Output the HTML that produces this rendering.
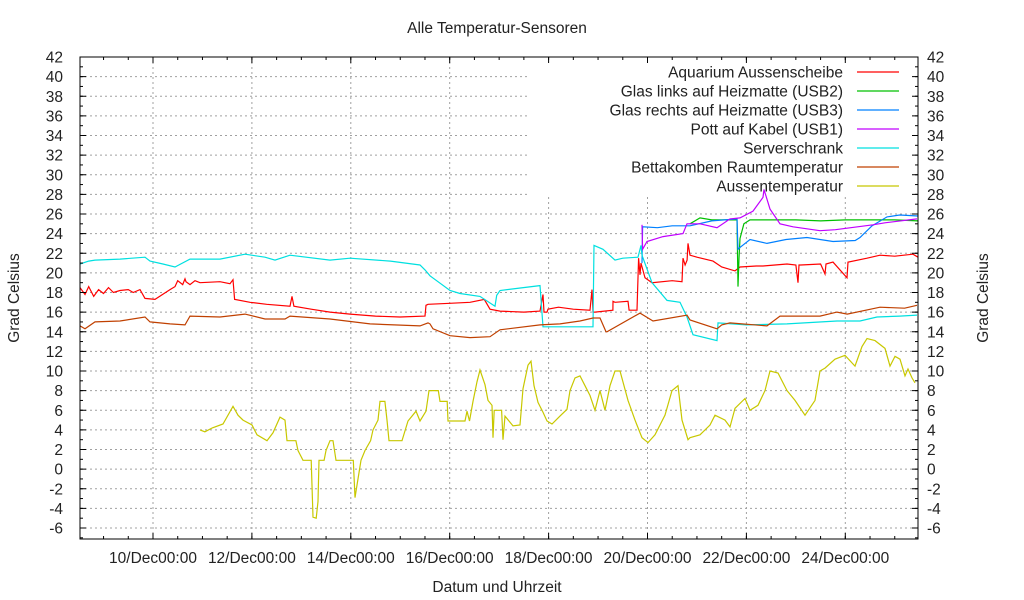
<!DOCTYPE html>
<html><head><meta charset="utf-8"><style>
body{margin:0;background:#fff}
svg{display:block;font-family:"Liberation Sans",sans-serif}
</style></head><body>
<svg id="chart" width="1024" height="600" viewBox="0 0 1024 600" xmlns="http://www.w3.org/2000/svg">
<rect width="1024" height="600" fill="#fff"/>
<text x="497" y="33" font-size="15.5" text-anchor="middle" fill="#222">Alle Temperatur-Sensoren</text>
<text x="0" y="0" font-size="15.5" text-anchor="middle" fill="#222" transform="translate(19,298) rotate(-90)">Grad Celsius</text>
<text x="0" y="0" font-size="15.5" text-anchor="middle" fill="#222" transform="translate(988,298) rotate(-90)">Grad Celsius</text>
<text x="497" y="592" font-size="15.5" text-anchor="middle" fill="#222">Datum und Uhrzeit</text>
<g id="grid"></g><g id="legendbg"></g><g id="series"></g><g id="axes"></g><g id="legend"></g>
</svg>
<script>
// time in days since 10/Dec 00:00
const xTickDays=[0,2,4,6,8,10,12,14];
const xTickLabels=["10/Dec00:00","12/Dec00:00","14/Dec00:00","16/Dec00:00","18/Dec00:00","20/Dec00:00","22/Dec00:00","24/Dec00:00"];
const yTicks=[-6,-4,-2,0,2,4,6,8,10,12,14,16,18,20,22,24,26,28,30,32,34,36,38,40,42];
const seriesNames=["Aquarium Aussenscheibe","Glas links auf Heizmatte (USB2)","Glas rechts auf Heizmatte (USB3)","Pott auf Kabel (USB1)","Serverschrank","Bettakomben Raumtemperatur","Aussentemperatur"];
const seriesColors=["#ff0000","#00c000","#0080ff","#c000ff","#00e0e0","#c04000","#c8c800"];

const redT=[-1.476,-1.375,-1.3,-1.2,-1.1,-1.0,-0.9,-0.8,-0.667,-0.5,-0.4,-0.263,-0.162,0.04,0.344,0.445,0.5,0.6,0.647,0.667,0.748,0.849,0.95,1.355,1.557,1.618,1.65,1.962,2.3,2.77,2.811,2.85,3.2,3.579,3.984,4.5,4.995,5.501,5.521,5.561,6.0,6.411,6.7,6.815,7.017,7.5,7.826,7.887,7.907,7.968,7.988,8.2,8.5,8.837,8.878,8.898,8.938,9.3,9.302,9.343,9.606,9.628,9.788,9.82,9.848,9.869,9.95,10.091,10.5,10.698,10.718,10.76,10.8,10.819,10.86,11.0,11.325,11.5,11.769,11.87,12.2,12.336,12.821,13.0,13.043,13.063,13.1,13.5,13.589,13.609,13.751,14.034,14.054,14.439,14.701,15.0,15.369,15.47];
const redV=[18.5,17.8,18.6,17.6,18.3,17.9,18.5,18,18.2,18.3,18.0,18.3,17.4,17.3,18.3,18.6,19.2,18.8,19.4,19.1,18.8,19.2,19.0,19.1,18.9,19.3,17.3,17.0,16.8,16.6,17.6,16.6,16.3,16.0,15.8,15.6,15.5,15.6,16.7,16.8,16.9,17.0,17.3,16.3,16.1,16.0,16.1,17.8,16.0,16.0,16.3,16.5,16.3,16.2,18.3,16.0,16.0,16.2,17.1,17.0,17.1,16.2,16.2,21.5,19.8,21.0,19.5,19.0,19.2,19.1,21.5,20.8,21.3,23.0,21.8,21.6,21.2,20.6,20.2,20.6,20.7,20.7,20.9,20.8,19.0,20.8,20.8,20.9,19.9,20.9,21.1,19.5,21.1,21.5,21.8,21.7,21.9,21.6];
const greenT=[10.86,11.062,11.3,11.81,11.83,11.85,11.87,11.95,12.073,12.5,13.0,13.5,14.0,14.5,15.0,15.47];
const greenV=[25.0,25.6,25.4,25.4,18.6,21.5,23.5,25.0,25.4,25.4,25.4,25.3,25.4,25.4,25.4,25.3];
const blueT=[9.889,9.9,10.2,10.5,10.86,11.3,11.81,11.83,11.87,12.073,12.417,12.8,13.225,13.751,14.2,14.297,14.54,14.843,15.1,15.47];
const blueV=[21.0,24.7,24.6,24.8,24.8,25.3,25.5,22.4,22.6,23.4,23.0,23.4,23.6,23.2,23.3,23.6,24.8,25.7,25.9,25.8];
const purpleT=[9.889,9.9,9.99,10.313,10.718,10.799,11.062,11.406,11.668,11.87,12.133,12.336,12.356,12.477,12.68,12.942,13.488,13.8,14.56,14.8,15.45];
const purpleV=[24.9,22.4,23.2,23.7,24.0,25.0,25.0,24.6,25.5,25.6,26.3,27.7,28.5,26.5,25.0,24.7,24.3,24.4,24.9,25.1,25.5];
const cyanT=[-1.476,-1.3,-1.173,-0.667,-0.162,-0.061,0.2,0.445,0.748,1.355,1.86,2.265,2.467,2.77,3.579,3.984,4.8,5.399,5.501,5.602,6.006,6.208,6.613,6.916,6.95,7.017,7.826,7.887,7.9,8.898,8.918,9.1,9.343,9.5,9.808,9.869,9.889,10.091,10.394,10.657,10.799,10.92,11.406,11.426,12.0,12.821,13.832,14.297,14.641,15.1,15.45];
const cyanV=[20.9,21.2,21.3,21.4,21.6,21.2,20.9,20.6,21.4,21.4,21.9,21.6,21.3,21.8,21.3,21.5,21.2,20.8,20.3,19.7,18.2,17.9,17.6,16.6,17.7,18.2,18.7,14.5,14.5,14.5,22.8,22.4,21.3,21.5,21.6,22.8,21.8,19.0,17.2,17.0,15.5,13.7,13.1,14.9,14.7,14.8,15.1,15.1,15.5,15.6,15.7];
const brownT=[-1.476,-1.375,-1.173,-0.667,-0.162,-0.061,0.344,0.647,0.748,1.355,1.86,2.265,2.669,2.77,3.579,4.388,5.399,5.561,5.602,5.662,6.006,6.411,6.815,7.017,7.826,8.23,8.635,8.898,8.938,9.039,9.16,9.18,9.848,10.111,10.799,10.86,11.406,11.5,11.668,12.417,12.68,13.488,13.832,14.04,14.701,15.2,15.45];
const brownV=[14.6,14.3,15.0,15.1,15.5,15.0,14.8,14.7,15.6,15.5,15.8,15.3,15.3,15.6,15.3,14.8,14.6,14.9,14.8,14.3,13.6,13.4,13.5,14.2,14.7,14.8,15.1,15.4,15.4,15.4,14.0,14.0,15.9,15.1,15.7,15.2,14.3,14.7,14.9,14.6,15.6,15.6,16.0,15.8,16.5,16.4,16.7];
const yellowT=[0.95,1.05,1.2,1.416,1.618,1.719,1.82,2.002,2.103,2.305,2.427,2.568,2.669,2.71,2.89,2.932,3.033,3.2,3.236,3.3,3.337,3.357,3.46,3.498,3.579,3.64,3.701,4.05,4.085,4.146,4.206,4.287,4.40,4.449,4.550,4.590,4.69,4.732,4.772,5.035,5.157,5.318,5.4,5.521,5.581,5.77,5.804,5.95,5.966,6.31,6.35,6.40,6.471,6.552,6.613,6.714,6.775,6.855,6.876,6.9,7.05,7.078,7.118,7.280,7.422,7.482,7.583,7.644,7.705,7.786,7.887,7.968,8.069,8.15,8.230,8.372,8.433,8.534,8.635,8.736,8.837,8.938,9.039,9.140,9.242,9.343,9.444,9.606,9.747,9.889,10.010,10.152,10.354,10.495,10.617,10.698,10.819,10.860,11.062,11.264,11.365,11.567,11.668,11.769,11.972,12.073,12.235,12.376,12.477,12.639,12.821,12.983,13.185,13.387,13.488,13.589,13.791,13.993,14.196,14.337,14.439,14.6,14.802,14.904,15.005,15.106,15.207,15.268,15.349,15.41,15.47];
const yellowV=[4.0,3.8,4.2,4.6,6.4,5.5,5.0,4.5,3.5,2.9,3.7,5.3,5.0,2.9,2.9,1.9,0.9,0.9,-4.9,-5.0,-3.3,0.9,0.9,1.9,2.9,2.9,0.9,0.9,-2.9,-1.0,0.9,1.9,2.9,4.0,5.0,6.9,6.9,5.0,2.9,2.9,4.9,5.9,4.9,5.9,8.0,8.0,6.9,6.9,4.9,4.9,5.9,4.9,6.9,8.9,10.1,8.6,7.0,6.5,3.2,6.0,6.0,3.0,5.4,4.4,4.5,8.2,10.6,11.0,8.5,6.8,5.8,4.9,4.6,5.0,5.4,6.1,8.0,9.3,9.5,8.5,7.5,6.0,8.0,6.0,8.5,10.0,10.0,7.0,5.0,3.2,2.7,3.5,5.5,8.0,8.5,5.0,3.0,3.2,3.5,4.5,5.5,5.0,4.3,6.2,7.2,6.0,6.5,8.0,10.0,9.8,8.0,7.0,5.5,7.0,10.0,10.3,11.2,11.6,10.5,12.5,13.3,13.1,12.3,10.5,11.5,11.2,9.5,10.2,9.3,8.8];

const allT=[redT,greenT,blueT,purpleT,cyanT,brownT,yellowT];
const allV=[redV,greenV,blueV,purpleV,cyanV,brownV,yellowV];

const NS="http://www.w3.org/2000/svg";
const L=80,R=918,T=57,B=539;
const x=t=>153+t*49.45;
const y=v=>57+(42-v)*9.8125;
const FS=15.5;
function mk(tag,at,parent){const e=document.createElementNS(NS,tag);for(const k in at)e.setAttribute(k,at[k]);parent.appendChild(e);return e;}
const grid=document.getElementById('grid'),axes=document.getElementById('axes'),ser=document.getElementById('series'),leg=document.getElementById('legend'),lbg=document.getElementById('legendbg');

yTicks.forEach(v=>{
  const g=mk('line',{x1:L,x2:R,y1:y(v),y2:y(v),stroke:'#a0a0a0','stroke-dasharray':'2,3','stroke-width':1},grid);
  
  
  const t1=mk('text',{x:63,y:y(v)+5.5,'font-size':FS,'text-anchor':'end',fill:'#222'},axes);t1.textContent=v;
  
  
  const t2=mk('text',{x:927,y:y(v)+5.5,'font-size':FS,'text-anchor':'start',fill:'#222'},axes);t2.textContent=v;
  
  
  mk('line',{x1:L,x2:L+6,y1:y(v),y2:y(v),stroke:'#000'},axes);
  mk('line',{x1:R-6,x2:R,y1:y(v),y2:y(v),stroke:'#000'},axes);
});
for(let v=-7;v<=42;v++){mk('line',{x1:L,x2:L+3,y1:y(v),y2:y(v),stroke:'#000'},axes);mk('line',{x1:R-3,x2:R,y1:y(v),y2:y(v),stroke:'#000'},axes);}
xTickDays.forEach((d,i)=>{
  const g=mk('line',{x1:x(d),x2:x(d),y1:T,y2:B,stroke:'#a0a0a0','stroke-dasharray':'2,3'},grid);
  
  
  const t=mk('text',{x:x(d),y:563,'font-size':FS,'text-anchor':'middle',fill:'#222'},axes);t.textContent=xTickLabels[i];
  
  
  mk('line',{x1:x(d),x2:x(d),y1:B,y2:B-6,stroke:'#000'},axes);
  mk('line',{x1:x(d),x2:x(d),y1:T,y2:T+6,stroke:'#000'},axes);
});
for(let d=-1.5;d<=15.5;d+=0.5){const xx=x(d);if(xx<L||xx>R)continue;mk('line',{x1:xx,x2:xx,y1:B,y2:B-3,stroke:'#000'},axes);mk('line',{x1:xx,x2:xx,y1:T,y2:T+3,stroke:'#000'},axes);}
mk('rect',{x:L,y:T,width:R-L,height:B-T,fill:'none',stroke:'#000'},axes);
mk('rect',{x:527,y:T+1,width:385,height:137,fill:'#fff'},lbg);

allT.forEach((ts,k)=>{
  const vs=allV[k];
  const d=ts.map((t,i)=>(i?'L':'M')+x(t).toFixed(1)+','+y(vs[i]).toFixed(1)).join('');
  const p=mk('path',{d:d,fill:'none',stroke:seriesColors[k],'stroke-width':1.2},ser);
  
  
});
seriesNames.forEach((n,k)=>{
  const yy=72+k*19;
  const t=mk('text',{x:843,y:yy+5.5,'font-size':FS,'text-anchor':'end',fill:'#222'},leg);t.textContent=n;
  
  
  const l=mk('line',{x1:857,x2:899,y1:yy,y2:yy,stroke:seriesColors[k],'stroke-width':1.2},leg);
  
  
});
</script>
</body></html>
